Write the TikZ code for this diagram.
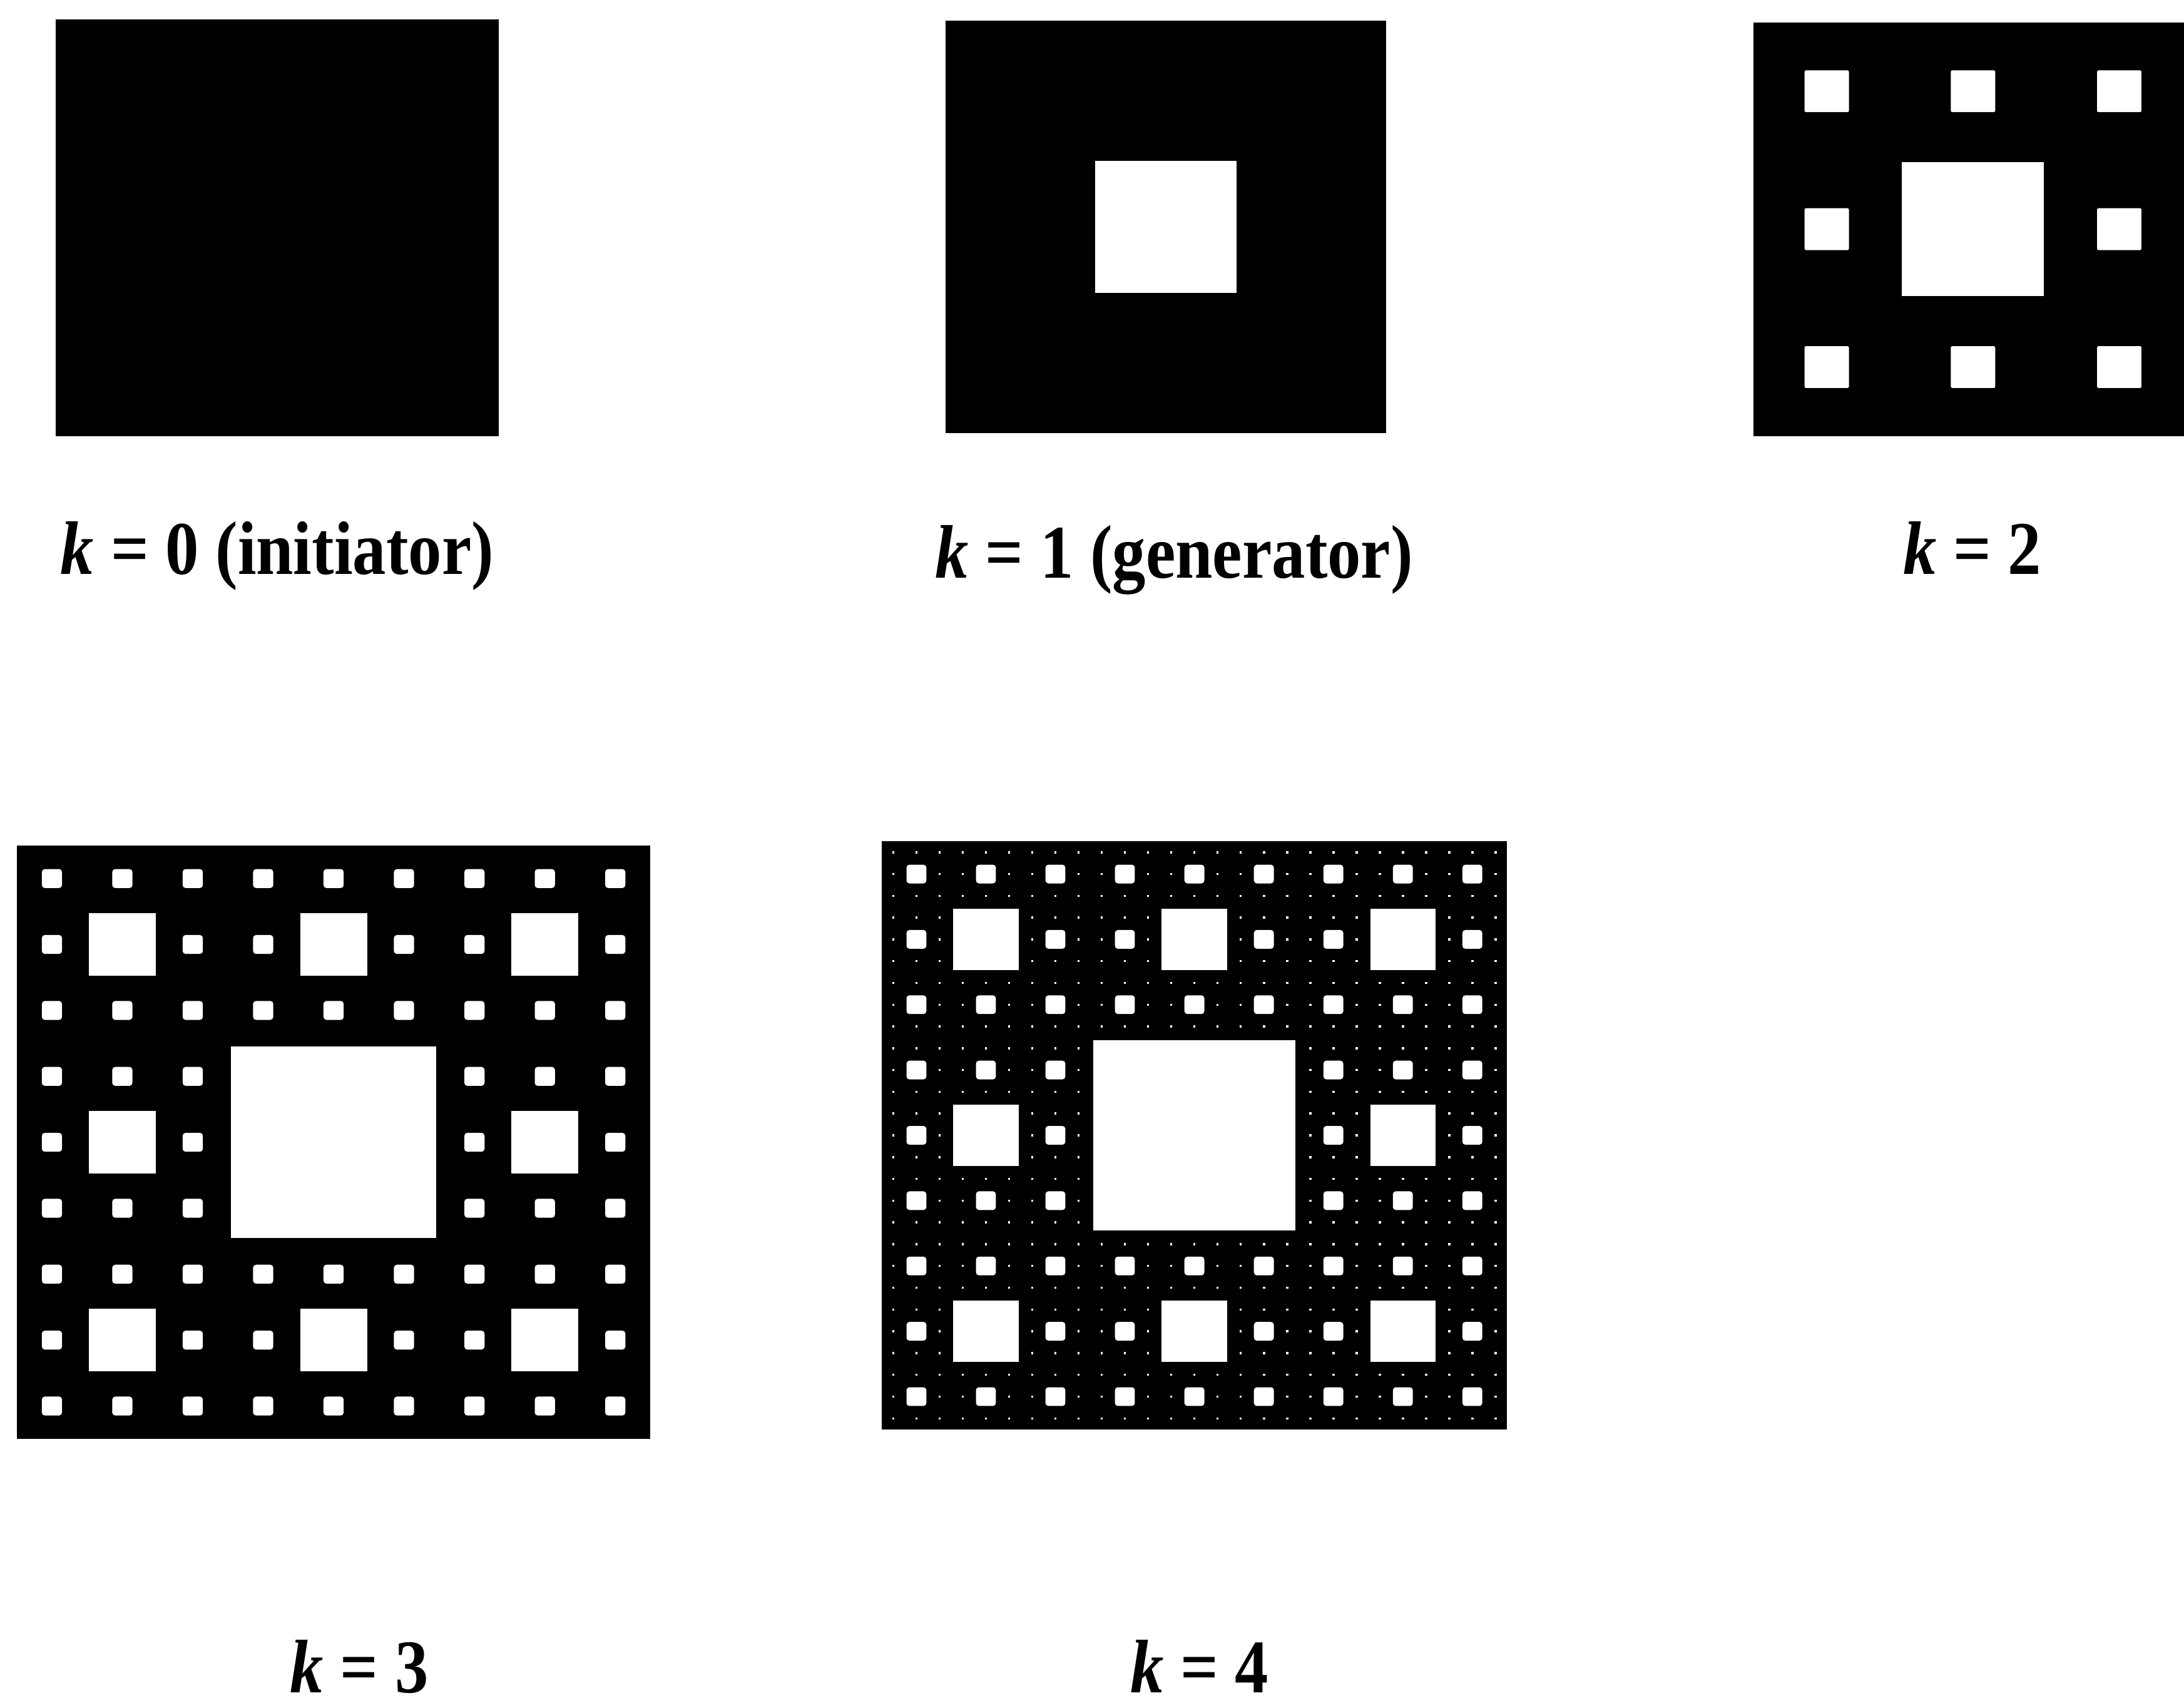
\documentclass[tikz,border=0pt]{standalone}
\usepackage{fontspec}
\setmainfont{Liberation Serif}
\usepackage{graphicx}
\tikzset{
  carpetfill/.style={fill=black},
  holefill/.style={fill=white},
  lbl/.style={inner sep=0pt, anchor=base, font=\fontsize{31}{36}\selectfont\bfseries},
}
\newcommand\klabel[1]{\scalebox{0.88}[1]{\textit{k} = #1}}
% #1 left, #2 top, #3 width, #4 height, #5 level, #6 size factor, #7 extra style
\newcommand\carpetholes[7]{%
  \pgfmathtruncatemacro\nnmax{3^(#5-1)-1}%
  \pgfmathsetmacro\cwd{#3/(3^#5)}%
  \pgfmathsetmacro\cht{#4/(3^#5)}%
  \foreach \ii in {0,...,\nnmax}{%
    \foreach \jj in {0,...,\nnmax}{%
      \fill[holefill,#7] ({#1+(3*\ii+1+(1-#6)/2)*\cwd},{#2+(3*\jj+1+(1-#6)/2)*\cht})
        rectangle ++({#6*\cwd},{#6*\cht});
    }%
  }%
}
\begin{document}
\begin{tikzpicture}[x=0.02cm,y=-0.02cm]
\useasboundingbox[fill=white] (0,0) rectangle (1568,1226);
\begin{scope}
\clip (0,0) rectangle (1568,1226);
% k = 0
\fill[carpetfill] (40,14) rectangle (358,313);
% k = 1
\fill[carpetfill] (679,15) rectangle (995,311);
\carpetholes{679}{15}{316}{296}{1}{0.96}{}
% k = 2
\fill[carpetfill] (1259,16) rectangle ++(315,297);
\carpetholes{1259}{16}{315}{297}{1}{0.97}{}
\carpetholes{1259}{16}{315}{297}{2}{0.91}{rounded corners=0.6pt}
% k = 3
\fill[carpetfill] (12,607) rectangle (467,1033);
\carpetholes{12}{607}{455}{426}{1}{0.97}{}
\carpetholes{12}{607}{455}{426}{2}{0.95}{}
\carpetholes{12}{607}{455}{426}{3}{0.86}{rounded corners=1.2pt}
% k = 4
\fill[carpetfill] (633,604) rectangle (1082,1026);
\carpetholes{633}{604}{449}{422}{1}{0.97}{}
\carpetholes{633}{604}{449}{422}{2}{0.94}{}
\carpetholes{633}{604}{449}{422}{3}{0.86}{rounded corners=1.2pt}
\carpetholes{633}{604}{449}{422}{4}{0.3}{}
\end{scope}
% labels
\node[lbl] (l0) at (199,412) {\klabel{0 (initiator)}};
\node[lbl] (l1) at (843,415) {\klabel{1 (generator)}};
\node[lbl] (l2) at (1416,412) {\klabel{2}};
\node[lbl] (l3) at (258,1215) {\klabel{3}};
\node[lbl] (l4) at (861,1215) {\klabel{4}};
\end{tikzpicture}
\end{document}
